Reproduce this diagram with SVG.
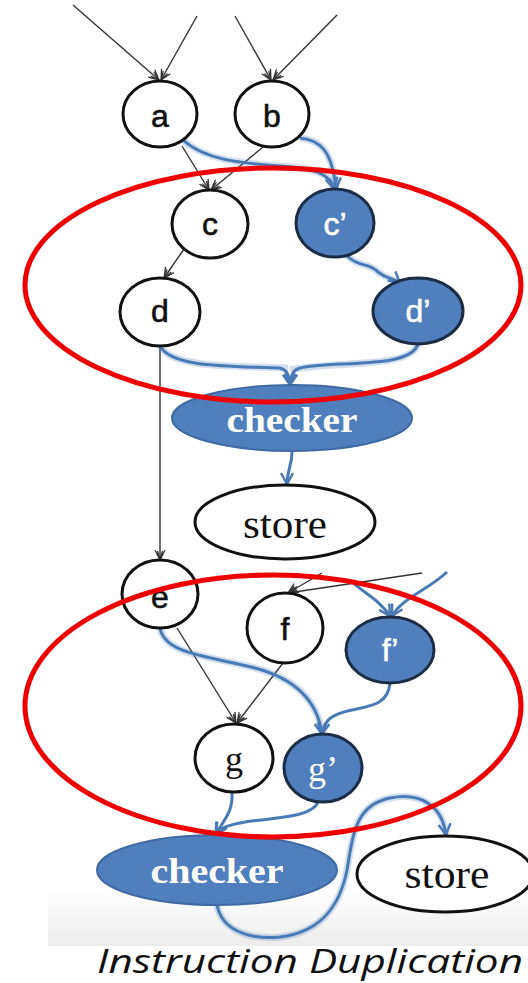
<svg xmlns="http://www.w3.org/2000/svg" width="528" height="983" viewBox="0 0 528 983">
  <style>
    .node { fill: #ffffff; stroke: #111111; stroke-width: 3; }
    .dup { fill: #4f7fbd; stroke: #1c2c44; stroke-width: 3; }
    .chk { fill: #4f7fbd; stroke: #3f6aa3; stroke-width: 2; }
    .lbl { font-family: "Liberation Sans", Arial, sans-serif; font-size: 32px; fill: #111111; text-anchor: middle; stroke: #111111; stroke-width: 0.6; }
    .lblw { font-family: "Liberation Sans", Arial, sans-serif; font-size: 32px; fill: #ffffff; text-anchor: middle; stroke: #ffffff; stroke-width: 0.6; }
    .ser { font-family: "Liberation Serif", "Times New Roman", serif; font-size: 40px; fill: #111111; text-anchor: middle; }
    .serw { font-family: "Liberation Serif", "Times New Roman", serif; font-size: 36px; fill: #ffffff; text-anchor: middle; font-weight: bold; }
    .thin { fill: none; stroke: #333333; stroke-width: 1.4; marker-end: url(#arrK); }
    .blue { fill: none; stroke: #4a7ab6; stroke-width: 3; marker-end: url(#arrB); }
    .glow { fill: none; stroke: #4a7ab6; stroke-width: 7; stroke-opacity: 0.25; }
    .ring { fill: none; stroke: #ee0000; stroke-width: 5; }
  </style>
  <defs>
    <marker id="arrK" viewBox="0 0 12 12" refX="11" refY="6" markerWidth="12" markerHeight="12" markerUnits="userSpaceOnUse" orient="auto">
      <path d="M1,1 L11,6 L1,11 M2,3.5 L11,6 L2,8.5" fill="none" stroke="#333333" stroke-width="1.3"/>
    </marker>
    <marker id="arrB" viewBox="0 0 14 14" refX="12" refY="7" markerWidth="14" markerHeight="14" markerUnits="userSpaceOnUse" orient="auto">
      <path d="M1,1 L12,7 L1,13" fill="none" stroke="#4a7ab6" stroke-width="2.5"/>
    </marker>
    <linearGradient id="band" x1="0" y1="0" x2="0" y2="1">
      <stop offset="0" stop-color="#ffffff"/>
      <stop offset="1" stop-color="#ececec"/>
    </linearGradient>
  </defs>

  <rect width="528" height="983" fill="#ffffff"/>
  <!-- soft grey band at the foot of the slide -->
  <rect x="48" y="890" width="480" height="56" fill="url(#band)"/>

  <!-- connectors -->
  <g id="connectors">
    <!-- data flow (black) -->
    <line class="thin" x1="73" y1="5" x2="159" y2="80"/>
    <line class="thin" x1="197" y1="16" x2="161" y2="80"/>
    <line class="thin" x1="235" y1="16" x2="271" y2="80"/>
    <line class="thin" x1="337" y1="15" x2="273" y2="80"/>
    <line class="thin" x1="182" y1="146" x2="209" y2="190"/>
    <line class="thin" x1="263" y1="147" x2="211" y2="190"/>
    <line class="thin" x1="184" y1="249" x2="164" y2="278"/>
    <line class="thin" x1="160" y1="346" x2="160" y2="560"/>
    <line class="thin" x1="322" y1="573" x2="288" y2="593"/>
    <line class="thin" x1="422" y1="573" x2="288" y2="593"/>
    <line class="thin" x1="177" y1="628" x2="236" y2="723"/>
    <line class="thin" x1="283" y1="663" x2="237" y2="723"/>

    <!-- duplicated flow (blue) -->
    <g>
      <path class="glow" d="M183,140 C205,160 240,163 280,166 C310,168 330,172 334,188"/>
      <path class="blue" d="M183,140 C205,160 240,163 280,166 C310,168 330,172 334,189"/>
      <path class="glow" d="M300,138 C320,140 332,150 336,188"/>
      <path class="blue" d="M300,138 C320,140 332,150 336,189"/>
      <path class="glow" d="M347,256 C360,268 368,262 378,272 C388,280 394,278 400,283"/>
      <path class="blue" d="M347,256 C360,268 368,262 378,272 C388,280 394,278 400,283"/>
      <path class="glow" d="M160,346 C172,368 230,366 288,368 M418,344 C410,370 330,360 290,370"/>
      <path class="blue" d="M160,346 C172,368 230,366 280,368 C287,370 289,375 290,385"/>
      <path class="blue" d="M418,344 C410,370 330,360 300,368 C293,370 291,375 290,385"/>
      <path class="blue" d="M292,452 C292,466 287,470 287,484"/>

      <path class="blue" d="M350,580 C362,592 380,600 390,616"/>
      <path class="blue" d="M447,572 C428,590 402,598 392,616"/>
      <path class="glow" d="M160,628 C165,655 210,656 255,668 C300,680 318,705 322,733"/>
      <path class="blue" d="M160,628 C165,655 210,656 255,668 C300,680 318,705 322,734"/>
      <path class="blue" d="M390,683 C388,705 370,706 352,710 C332,714 324,720 322,734"/>
      <path class="blue" d="M232,792 C233,812 225,818 216,834"/>
      <path class="blue" d="M318,802 C312,818 270,818 245,822 C228,825 220,828 216,834"/>
      <path class="glow" d="M217,905 C222,930 248,940 280,937 C322,932 340,905 347,870 C353,835 355,805 390,798 C420,792 442,805 446,834"/>
      <path class="blue" d="M217,905 C222,930 248,940 280,937 C322,932 340,905 347,870 C353,835 355,805 390,798 C420,792 442,805 446,835"/>
    </g>
  </g>

  <!-- original instructions -->
  <g id="a"><ellipse class="node" cx="160" cy="114" rx="37" ry="33"/><text class="lbl" x="160" y="127">a</text></g>
  <g id="b"><ellipse class="node" cx="272" cy="114" rx="37" ry="33"/><text class="lbl" x="272" y="127">b</text></g>
  <g id="c"><ellipse class="node" cx="210" cy="224" rx="38" ry="34"/><text class="lbl" x="210" y="235">c</text></g>
  <g id="d"><ellipse class="node" cx="160" cy="312" rx="40" ry="34"/><text class="lbl" x="160" y="322">d</text></g>
  <g id="e"><ellipse class="node" cx="160" cy="594" rx="38" ry="34"/><text class="lbl" x="160" y="608">e</text></g>
  <g id="f"><ellipse class="node" cx="285" cy="628" rx="38" ry="35"/><text class="lbl" x="285" y="640">f</text></g>
  <g id="g"><ellipse class="node" cx="234" cy="758" rx="39" ry="34"/><text class="ser" x="234" y="771" style="font-size:36px">g</text></g>

  <!-- duplicated instructions -->
  <g id="c-dup"><ellipse class="dup" cx="335" cy="223" rx="39" ry="34"/><text class="lblw" x="335" y="235">c’</text></g>
  <g id="d-dup"><ellipse class="dup" cx="418" cy="311" rx="45" ry="33"/><text class="lblw" x="418" y="322">d’</text></g>
  <g id="f-dup"><ellipse class="dup" cx="390" cy="650" rx="44" ry="33"/><text class="lblw" x="390" y="661">f’</text></g>
  <g id="g-dup"><ellipse class="dup" cx="323" cy="768" rx="39" ry="34"/><text class="ser" style="fill:#ffffff;font-size:36px" x="323" y="781">g’</text></g>

  <!-- checkers and stores -->
  <g id="checker1"><ellipse class="chk" cx="292" cy="418" rx="120" ry="33"/><text class="serw" x="292" y="432" textLength="131" lengthAdjust="spacingAndGlyphs">checker</text></g>
  <g id="store1"><ellipse class="node" cx="285" cy="522" rx="90" ry="37"/><text class="ser" x="285" y="538" textLength="84" lengthAdjust="spacingAndGlyphs">store</text></g>
  <g id="checker2"><ellipse class="chk" cx="217" cy="870" rx="120" ry="35"/><text class="serw" x="217" y="883" textLength="133" lengthAdjust="spacingAndGlyphs">checker</text></g>
  <g id="store2"><ellipse class="node" cx="445" cy="874" rx="88" ry="38"/><text class="ser" x="447" y="888" textLength="85" lengthAdjust="spacingAndGlyphs">store</text></g>

  <!-- sphere-of-replication rings -->
  <ellipse class="ring" cx="273" cy="285" rx="248" ry="117"/>
  <ellipse class="ring" cx="273" cy="706" rx="248" ry="131"/>

  <text x="97" y="973" font-family="'Open Sans', 'DejaVu Sans', sans-serif" font-style="italic" font-size="32" fill="#111111" textLength="426" lengthAdjust="spacingAndGlyphs">Instruction Duplication</text>
</svg>
